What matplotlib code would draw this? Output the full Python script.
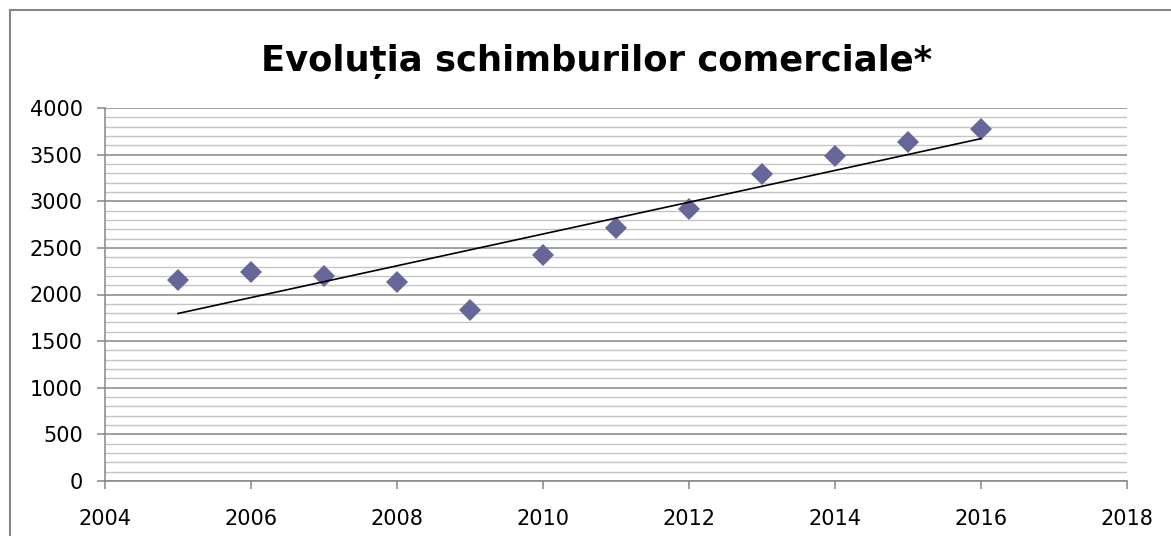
import numpy as np
import matplotlib
matplotlib.use("Agg")
import matplotlib.pyplot as plt
from matplotlib.lines import Line2D

title = "Evoluția schimburilor comerciale*"
years = [2005, 2006, 2007, 2008, 2009, 2010, 2011, 2012, 2013, 2014, 2015, 2016]
values = [2155, 2241, 2198, 2134, 1834, 2424, 2713, 2917, 3292, 3485, 3640, 3775]
x_ticks = [2004, 2006, 2008, 2010, 2012, 2014, 2016, 2018]
y_ticks = [0, 500, 1000, 1500, 2000, 2500, 3000, 3500, 4000]

W, H = 1171, 536
fig = plt.figure(figsize=(W / 100, H / 100), dpi=100)
ax = fig.add_axes([105 / W, 1 - 481 / H, (1127 - 105) / W, (481 - 108) / H])

major_c = "#868686"
minor_c = "#c4c4c4"

ax.set_xlim(2004, 2018)
ax.set_ylim(0, 4000)
ax.set_yticks(y_ticks)
ax.set_yticks(np.arange(0, 4001, 100), minor=True)
ax.set_xticks(x_ticks)
ax.set_xticklabels([str(t) for t in x_ticks])
ax.set_yticklabels([str(t) for t in y_ticks])

ax.grid(which="major", axis="y", color=major_c, lw=1.1, zorder=0)
ax.grid(which="minor", axis="y", color=minor_c, lw=1.0, zorder=0)
ax.set_axisbelow(True)

for s in ["top", "right"]:
    ax.spines[s].set_visible(False)
for s in ["left", "bottom"]:
    ax.spines[s].set_color(major_c)
    ax.spines[s].set_linewidth(1.1)

ax.tick_params(axis="both", which="major", direction="out", length=6, width=1.1,
               color=major_c, labelsize=15, labelcolor="black")
ax.tick_params(axis="y", which="minor", length=0)
ax.tick_params(axis="x", pad=14)
ax.tick_params(axis="y", pad=10)
for lab in ax.get_xticklabels() + ax.get_yticklabels():
    lab.set_family("DejaVu Sans")

ax.plot(years, values, linestyle="none", marker="D", markersize=11.5,
        color="#666699", markeredgewidth=0, zorder=3)

coef = np.polyfit(years, values, 1)
xs = np.array([years[0], years[-1]])
ax.plot(xs, np.polyval(coef, xs), color="black", lw=1.2, zorder=4)

fig.text(596.5 / W, 1 - 71 / H, title, ha="center", va="baseline",
         fontsize=25.5, fontweight="bold", family=["DejaVu Sans"])

fig.add_artist(Line2D([9.5 / W, 9.5 / W], [0, 1 - 9.5 / H], transform=fig.transFigure,
                      color=major_c, lw=1.5))
fig.add_artist(Line2D([9.5 / W, 1], [1 - 9.5 / H, 1 - 9.5 / H], transform=fig.transFigure,
                      color=major_c, lw=1.5))

fig.savefig("out.png", dpi=100, facecolor="white")
